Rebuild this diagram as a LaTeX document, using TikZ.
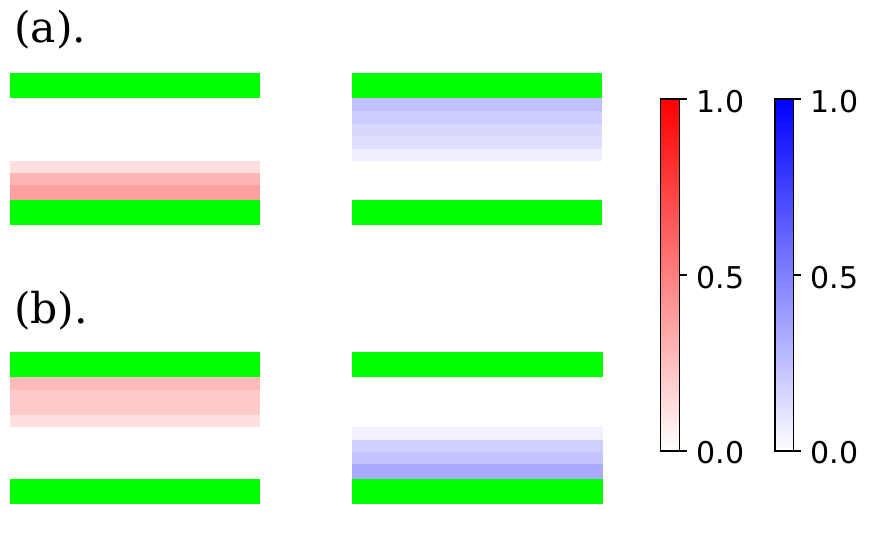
\documentclass[tikz,border=0pt]{standalone}
\usepackage{fontspec}
\setmainfont{DejaVu Serif}
\newfontfamily\dvsans{DejaVu Sans}
\definecolor{grn}{RGB}{0,255,0}
\definecolor{ra}{RGB}{255,222,222}
\definecolor{rb}{RGB}{255,181,181}
\definecolor{rc}{RGB}{255,160,160}
\definecolor{rd}{RGB}{255,186,186}
\definecolor{re}{RGB}{255,202,202}
\definecolor{rf}{RGB}{255,224,224}
\definecolor{ba}{RGB}{192,192,255}
\definecolor{bb}{RGB}{205,205,255}
\definecolor{bc}{RGB}{216,216,255}
\definecolor{bd}{RGB}{222,222,255}
\definecolor{be}{RGB}{238,238,255}
\definecolor{bf}{RGB}{240,240,255}
\definecolor{bg}{RGB}{208,208,255}
\definecolor{bh}{RGB}{196,196,255}
\definecolor{bi}{RGB}{170,170,255}
\tikzset{
  panellabel/.style={anchor=base west, inner sep=0pt, font=\fontsize{42.5}{42.5}\selectfont},
  ticklabel/.style={anchor=base west, inner sep=0pt, font=\dvsans\fontsize{30}{30}\selectfont},
  barframe/.style={draw=black, line width=1.4pt},
  tickmark/.style={draw=black, line width=1.4pt}
}
\begin{document}
\begin{tikzpicture}[x=1pt,y=-1pt]
\useasboundingbox (0,0) rectangle (872,551);
% panel labels
\node[panellabel] (la) at (14,43) {(a).};
\node[panellabel] (lb) at (14,323) {(b).};
% (a) left
\fill[grn] (10,73.3) rectangle (260,98.3);
\fill[ra] (10,161) rectangle (260,173);
\fill[rb] (10,173) rectangle (260,185);
\fill[rc] (10,185) rectangle (260,200);
\fill[grn] (10,200) rectangle (260,225);
% (a) right
\fill[grn] (351.7,73.3) rectangle (601.7,98.3);
\fill[ba] (351.7,98.3) rectangle (601.7,111);
\fill[bb] (351.7,111) rectangle (601.7,123.5);
\fill[bc] (351.7,123.5) rectangle (601.7,136);
\fill[bd] (351.7,136) rectangle (601.7,148.5);
\fill[be] (351.7,148.5) rectangle (601.7,161);
\fill[grn] (351.7,200) rectangle (601.7,225);
% (b) left
\fill[grn] (10,352.3) rectangle (260,377.3);
\fill[rd] (10,377.3) rectangle (260,390);
\fill[re] (10,390) rectangle (260,415);
\fill[rf] (10,415) rectangle (260,427.3);
\fill[grn] (10,479) rectangle (260,504);
% (b) right
\fill[grn] (351.7,352.3) rectangle (602.5,377.3);
\fill[bf] (351.7,427.3) rectangle (602.5,440);
\fill[bg] (351.7,440) rectangle (602.5,452);
\fill[bh] (351.7,452) rectangle (602.5,464);
\fill[bi] (351.7,464) rectangle (602.5,479);
\fill[grn] (351.7,479) rectangle (602.5,504);
% colorbar red
\shade[top color=red, bottom color=white] (660.7,99) rectangle (679.3,451);
\draw[barframe] (660.7,99) rectangle (679.3,451);
\foreach \yy in {99,275,451} \draw[tickmark] (679.3,\yy) -- (686.5,\yy);
\node[ticklabel] (r1) at (696.5,112) {1.0};
\node[ticklabel] (r2) at (696.5,288) {0.5};
\node[ticklabel] (r3) at (696.5,463.5) {0.0};
% colorbar blue
\shade[top color=blue, bottom color=white] (775,99) rectangle (793.3,451);
\draw[barframe] (775,99) rectangle (793.3,451);
\foreach \yy in {99,275,451} \draw[tickmark] (793.3,\yy) -- (800.5,\yy);
\node[ticklabel] (b1) at (810.5,112) {1.0};
\node[ticklabel] (b2) at (810.5,288) {0.5};
\node[ticklabel] (b3) at (810.5,463.5) {0.0};
\end{tikzpicture}
\end{document}
